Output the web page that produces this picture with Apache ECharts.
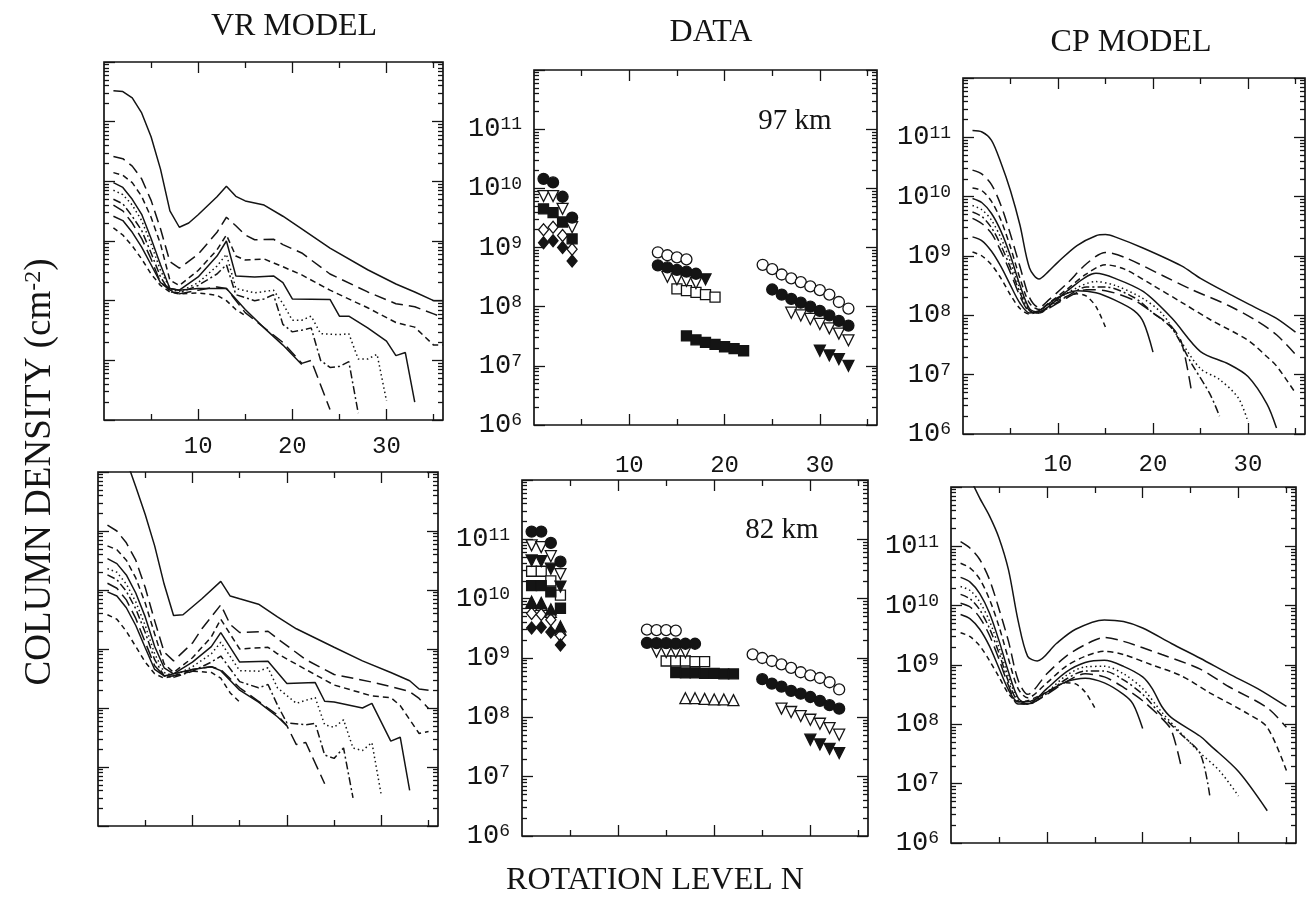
<!DOCTYPE html>
<html>
<head>
<meta charset="utf-8">
<script src="https://cdn.jsdelivr.net/npm/echarts@6/dist/echarts.min.js"></script>
<style>
  html, body { margin: 0; padding: 0; background: #fff; }
  #chart { width: 1315px; height: 920px; }
</style>
</head>
<body>
<div id="chart"></div>
<script>
// ---------- axis tick values ----------
const X_MAJOR = [10, 20, 30];
const X_MINOR = [5, 15, 25, 35];
const Y_DECADES = [1e6, 1e7, 1e8, 1e9, 1e10, 1e11, 1e12];
const Y_LABELS = [1e6, 1e7, 1e8, 1e9, 1e10, 1e11];

// ---------- VR model, upper row (N, column density) ----------
const vrTop1 = [[1,3.3e11],[2,3.2e11],[3,2.5e11],[4,1.4e11],[5,5.6e10],[6,1.6e10],[7,3.2e9],[8,1.7e9],[9,2.0e9],[10,2.75e9],[12,5.5e9],[13,8.3e9],[14,5.6e9],[15,4.7e9],[17,4.0e9],[19,2.6e9],[21,1.6e9],[24,7.6e8],[28,3.3e8],[31,1.9e8],[33,1.4e8],[35,1.0e8],[36,1.0e8]];
const vrTop2 = [[1,2.6e10],[2,2.4e10],[3,1.8e10],[4,1.1e10],[5,4.8e9],[6,1.6e9],[7,4.5e8],[8,3.5e8],[10,6.0e8],[12,1.4e9],[13,2.5e9],[14,1.8e9],[15,1.26e9],[16,1.05e9],[18,1.07e9],[19,8.7e8],[21,6.3e8],[24,2.8e8],[28,1.4e8],[31,8.9e7],[33,7.9e7],[35,6.0e7],[36,5.2e7]];
const vrTop3 = [[1,1.4e10],[2,1.26e10],[3,9.5e9],[4,5.6e9],[5,2.5e9],[6,8.9e8],[7,2.2e8],[8,1.8e8],[10,3.2e8],[12,7.1e8],[13,1.26e9],[14,5.6e8],[15,4.8e8],[17,5.0e8],[19,3.7e8],[21,2.7e8],[24,1.5e8],[28,7.6e7],[31,4.3e7],[33,3.6e7],[35,1.8e7],[36,1.8e7]];
const vrTop4 = [[1,9.5e9],[2,7.9e9],[3,5.0e9],[4,2.8e9],[5,1.1e9],[6,4.0e8],[7,1.6e8],[8,1.5e8],[10,2.5e8],[12,5.6e8],[13,1.0e9],[14,2.6e8],[16,2.5e8],[18,2.6e8],[19,2.0e8],[20,1.07e8],[24,1.05e8],[25,5.5e7],[26,5.5e7],[28,3.5e7],[30,2.1e7],[31,1.2e7],[32,1.35e7],[33,2.0e6]];
const vrTop5 = [[1,7.1e9],[2,6.0e9],[3,4.0e9],[4,2.2e9],[5,8.9e8],[6,3.2e8],[7,1.6e8],[8,1.4e8],[10,2.0e8],[12,3.8e8],[13,6.0e8],[14,1.6e8],[16,1.35e8],[18,1.5e8],[19,8.9e7],[20,4.7e7],[21,4.7e7],[22,5.5e7],[23,2.8e7],[25,2.7e7],[26,2.8e7],[27,1.05e7],[28,1.05e7],[29,1.26e7],[30,2.1e6]];
const vrTop6 = [[1,5.0e9],[2,4.2e9],[3,2.6e9],[4,1.5e9],[5,6.3e8],[6,2.5e8],[7,1.4e8],[8,1.35e8],[10,1.8e8],[12,2.8e8],[13,4.0e8],[14,1.26e8],[16,1.0e8],[17,1.07e8],[18,1.26e8],[19,4.0e7],[20,3.0e7],[21,3.2e7],[22,3.5e7],[23,1.0e7],[24,7.6e6],[25,7.9e6],[26,9.5e6],[27,1.3e6]];
const vrTop7 = [[1,4.0e9],[2,3.2e9],[3,2.0e9],[4,1.1e9],[5,5.0e8],[6,2.0e8],[7,1.5e8],[8,1.3e8],[10,1.5e8],[12,1.7e8],[13,1.6e8],[15,6.3e7],[16,4.7e7],[19,2.0e7],[21,8.9e6],[22,1.0e7],[24,1.5e6]];
const vrTop8 = [[1,2.6e9],[2,2.2e9],[3,1.4e9],[4,7.9e8],[5,4.0e8],[6,2.0e8],[7,1.6e8],[8,1.5e8],[10,1.6e8],[13,1.6e8],[15,7.1e7],[17,3.5e7],[19,1.8e7],[21,8.5e6]];
const vrTop9 = [[1,1.66e9],[2,1.26e9],[3,8.3e8],[4,5.0e8],[5,2.8e8],[6,1.8e8],[7,1.4e8],[8,1.3e8],[10,1.35e8],[12,1.23e8],[13,1.0e8],[14,7.1e7],[15,5.6e7]];

// ---------- VR model, lower row ----------
const vrBot1 = [[2,5.0e12],[3,1.6e12],[4,5.6e11],[5,1.9e11],[6,5.6e10],[7,1.26e10],[8,3.7e9],[9,3.8e9],[11,7.1e9],[13,1.4e10],[14,7.9e9],[15,7.1e9],[17,5.75e9],[19,3.5e9],[21,2.2e9],[25,1.07e9],[28,6.3e8],[31,4.0e8],[33,2.9e8],[34,2.1e8],[35,2.0e8]];
const vrBot2 = [[1,1.26e11],[2,1.0e11],[3,6.3e10],[4,3.2e10],[5,1.1e10],[6,3.0e9],[7,8.9e8],[8,6.3e8],[10,1.26e9],[11,2.2e9],[13,5.6e9],[14,2.6e9],[15,1.9e9],[18,2.0e9],[19,1.5e9],[22,6.6e8],[25,3.7e8],[29,2.75e8],[31,2.3e8],[33,1.9e8],[34,1.45e8],[35,9.8e7]];
const vrBot3 = [[1,5.6e10],[2,4.8e10],[3,3.2e10],[4,1.6e10],[5,6.0e9],[6,1.8e9],[7,5.6e8],[8,4.0e8],[10,7.1e8],[12,1.6e9],[13,3.2e9],[15,1.0e9],[18,1.07e9],[19,8.3e8],[22,4.5e8],[25,2.45e8],[29,1.6e8],[31,1.5e8],[32,1.1e8],[34,3.7e7],[35,4.0e7]];
const vrBot4 = [[1,3.4e10],[2,2.8e10],[3,1.8e10],[4,8.9e9],[5,3.5e9],[6,1.1e9],[7,4.8e8],[8,3.8e8],[10,6.0e8],[12,1.1e9],[13,1.9e9],[15,6.0e8],[18,6.2e8],[20,2.6e8],[23,2.7e8],[24,1.3e8],[25,1.26e8],[28,1.0e8],[29,1.2e8],[31,2.75e7],[32,3.2e7],[33,4.0e6]];
const vrBot5 = [[1,2.3e10],[2,2.0e10],[3,1.26e10],[4,6.3e9],[5,2.5e9],[6,8.3e8],[7,4.0e8],[8,3.5e8],[10,5.0e8],[12,8.3e8],[13,1.3e9],[15,4.3e8],[17,4.2e8],[18,4.8e8],[19,2.2e8],[21,1.2e8],[22,1.35e8],[23,1.5e8],[24,5.2e7],[25,4.7e7],[26,6.3e7],[27,2.1e7],[28,1.9e7],[29,2.6e7],[30,3.3e6]];
const vrBot6 = [[1,1.8e10],[2,1.5e10],[3,9.5e9],[4,4.8e9],[5,1.9e9],[6,6.6e8],[7,3.5e8],[8,3.3e8],[10,4.2e8],[12,6.0e8],[13,7.6e8],[15,2.8e8],[17,2.2e8],[18,2.5e8],[19,1.12e8],[20,5.6e7],[22,5.2e7],[23,5.5e7],[24,1.6e7],[25,1.4e7],[26,2.1e7],[27,3.0e6]];
const vrBot7 = [[1,1.3e10],[2,1.07e10],[3,6.8e9],[4,3.3e9],[5,1.3e9],[6,5.2e8],[7,3.5e8],[8,3.5e8],[10,4.5e8],[12,5.0e8],[13,4.5e8],[15,2.2e8],[17,1.3e8],[19,7.6e7],[20,5.0e7],[21,2.4e7],[22,2.6e7],[24,5.2e6]];
const vrBot8 = [[1,9.3e9],[2,7.9e9],[3,5.0e9],[4,2.5e9],[5,1.05e9],[6,4.5e8],[7,3.5e8],[8,3.8e8],[10,4.5e8],[12,5.0e8],[13,4.3e8],[15,2.0e8],[17,1.26e8],[19,7.1e7],[20,5.0e7]];
const vrBot9 = [[1,3.8e9],[2,3.2e9],[3,2.0e9],[4,1.1e9],[5,6.0e8],[6,3.8e8],[7,3.2e8],[8,3.5e8],[10,4.2e8],[12,4.0e8],[13,3.2e8],[14,1.8e8],[15,1.26e8]];

// ---------- CP model, upper row ----------
const cpTop1 = [[1,1.3e11],[2,1.23e11],[3,8.9e10],[4,3.7e10],[5,1.26e10],[6,3.3e9],[7,6.3e8],[8,4.1e8],[9,5.5e8],[10,7.9e8],[12,1.5e9],[14,2.2e9],[15,2.3e9],[16,2.1e9],[19,1.35e9],[23,6.8e8],[25,4.2e8],[28,2.3e8],[31,1.3e8],[33,8.9e7],[35,5.2e7]];
const cpTop2 = [[1,2.8e10],[2,2.4e10],[3,1.6e10],[4,7.1e9],[5,2.3e9],[6,6.6e8],[7,2.0e8],[8,1.35e8],[9,1.8e8],[11,3.5e8],[13,7.4e8],[15,1.15e9],[17,9.5e8],[21,4.7e8],[24,2.75e8],[28,1.45e8],[31,7.9e7],[33,4.7e7],[35,2.2e7]];
const cpTop3 = [[1,1.4e10],[2,1.26e10],[3,8.3e9],[4,4.0e9],[5,1.4e9],[6,4.2e8],[7,1.6e8],[8,1.26e8],[9,1.6e8],[11,2.8e8],[13,5.0e8],[15,7.1e8],[17,6.0e8],[20,3.2e8],[23,1.66e8],[26,8.5e7],[30,3.8e7],[32,2.0e7],[33,1.4e7],[35,4.9e6]];
const cpTop4 = [[1,9.3e9],[2,7.9e9],[3,5.2e9],[4,2.6e9],[5,1.0e9],[6,3.2e8],[7,1.3e8],[8,1.15e8],[9,1.4e8],[11,2.6e8],[14,5.1e8],[16,4.2e8],[19,2.5e8],[22,8.9e7],[25,2.45e7],[28,1.5e7],[30,9.3e6],[32,3.2e6],[33,1.26e6]];
const cpTop5 = [[1,7.1e9],[2,6.0e9],[3,4.0e9],[4,2.0e9],[5,7.9e8],[6,2.8e8],[7,1.26e8],[8,1.1e8],[9,1.4e8],[11,2.4e8],[14,3.7e8],[16,3.2e8],[19,1.9e8],[21,1.05e8],[23,3.5e7],[25,1.26e7],[27,8.3e6],[29,4.0e6],[30,1.6e6]];
const cpTop6 = [[1,5.5e9],[2,4.6e9],[3,3.0e9],[4,1.5e9],[5,6.3e8],[6,2.4e8],[7,1.2e8],[8,1.1e8],[9,1.35e8],[11,2.1e8],[13,3.0e8],[15,3.0e8],[18,2.0e8],[20,1.1e8],[22,6.0e7],[24,1.6e7],[26,4.7e6],[27,2.0e6]];
const cpTop7 = [[1,4.3e9],[2,3.5e9],[3,2.4e9],[4,1.2e9],[5,5.2e8],[6,2.1e8],[7,1.15e8],[8,1.1e8],[9,1.3e8],[11,2.0e8],[13,2.7e8],[15,2.6e8],[18,1.8e8],[20,1.1e8],[22,6.3e7],[23,3.5e7],[24,5.9e6]];
const cpTop8 = [[1,2.1e9],[2,1.8e9],[3,1.2e9],[4,6.6e8],[5,3.2e8],[6,1.6e8],[7,1.1e8],[8,1.2e8],[10,2.0e8],[12,2.6e8],[14,2.4e8],[16,1.8e8],[18,1.2e8],[19,7.6e7],[20,2.4e7]];
const cpTop9 = [[1,1.17e9],[2,1.0e9],[3,7.1e8],[4,4.2e8],[5,2.2e8],[6,1.3e8],[7,1.05e8],[8,1.2e8],[10,1.8e8],[12,2.3e8],[13,2.1e8],[14,1.4e8],[15,6.3e7]];

// ---------- CP model, lower row ----------
const cpBot1 = [[2,1.4e12],[3,6.5e11],[4,3.3e11],[5,1.4e11],[6,4.0e10],[7,5.6e9],[8,1.4e9],[9,1.17e9],[11,2.3e9],[13,4.0e9],[16,5.75e9],[18,5.4e9],[20,4.2e9],[23,2.3e9],[26,1.3e9],[29,7.1e8],[32,4.0e8],[35,2.0e8]];
const cpBot2 = [[1,1.2e11],[2,9.3e10],[3,6.0e10],[4,2.8e10],[5,8.9e9],[6,2.5e9],[7,5.6e8],[8,3.2e8],[10,7.1e8],[12,1.4e9],[14,2.2e9],[16,2.9e9],[18,2.5e9],[22,1.5e9],[26,8.5e8],[29,4.3e8],[33,1.9e8],[35,8.9e7]];
const cpBot3 = [[1,5.2e10],[2,4.3e10],[3,2.8e10],[4,1.3e10],[5,4.5e9],[6,1.26e9],[7,4.0e8],[8,2.8e8],[10,5.0e8],[12,9.5e8],[14,1.4e9],[16,1.7e9],[18,1.5e9],[21,1.0e9],[24,6.6e8],[27,3.4e8],[31,1.5e8],[33,8.9e7],[35,1.66e7]];
const cpBot4 = [[1,3.0e10],[2,2.5e10],[3,1.6e10],[4,7.6e9],[5,2.6e9],[6,7.6e8],[7,2.8e8],[8,2.2e8],[10,4.0e8],[12,7.6e8],[14,1.1e9],[16,1.2e9],[18,9.5e8],[20,6.3e8],[21,4.0e8],[22,2.0e8],[23,1.3e8],[26,6.3e7],[27,4.5e7],[30,1.6e7],[33,3.5e6]];
const cpBot5 = [[1,2.1e10],[2,1.8e10],[3,1.15e10],[4,5.6e9],[5,2.0e9],[6,6.3e8],[7,2.6e8],[8,2.2e8],[10,3.5e8],[12,6.6e8],[14,9.3e8],[16,9.5e8],[18,7.1e8],[20,4.0e8],[22,1.6e8],[24,7.1e7],[26,3.3e7],[28,1.66e7],[30,6.2e6]];
const cpBot6 = [[1,1.55e10],[2,1.3e10],[3,8.5e9],[4,4.2e9],[5,1.6e9],[6,5.2e8],[7,2.4e8],[8,2.2e8],[10,3.3e8],[12,5.75e8],[14,7.9e8],[16,7.9e8],[18,5.6e8],[20,3.2e8],[22,1.4e8],[24,6.8e7],[26,3.2e7],[27,6.3e6]];
const cpBot7 = [[1,1.1e10],[2,9.5e9],[3,6.3e9],[4,3.2e9],[5,1.26e9],[6,4.5e8],[7,2.2e8],[8,2.2e8],[10,3.2e8],[12,5.2e8],[14,7.1e8],[16,6.3e8],[18,4.2e8],[20,2.5e8],[22,1.26e8],[23,7.9e7],[24,2.0e7]];
const cpBot8 = [[1,7.1e9],[2,6.0e9],[3,4.0e9],[4,2.1e9],[5,8.9e8],[6,3.8e8],[7,2.4e8],[8,2.4e8],[10,3.5e8],[12,5.2e8],[14,6.0e8],[16,5.0e8],[18,3.2e8],[19,2.2e8],[20,8.5e7]];
const cpBot9 = [[1,3.5e9],[2,3.0e9],[3,2.1e9],[4,1.2e9],[5,6.3e8],[6,3.3e8],[7,2.4e8],[8,2.5e8],[10,3.5e8],[12,5.0e8],[13,4.8e8],[14,3.5e8],[15,1.9e8]];

// ---------- measured columns, 97 km ----------
const d97OpenCircle   = [[13,8.3e8],[14,7.4e8],[15,6.8e8],[16,6.3e8],[24,5.1e8],[25,4.3e8],[26,3.5e8],[27,3.0e8],[28,2.6e8],[29,2.2e8],[30,1.9e8],[31,1.6e8],[32,1.2e8],[33,9.3e7]];
const d97FilledCircle = [[1,1.45e10],[2,1.26e10],[3,7.2e9],[4,3.2e9],[13,5.0e8],[14,4.6e8],[15,4.2e8],[16,3.9e8],[17,3.6e8],[25,1.95e8],[26,1.6e8],[27,1.35e8],[28,1.17e8],[29,1.0e8],[30,8.5e7],[31,7.1e7],[32,5.75e7],[33,4.8e7]];
const d97OpenDown     = [[1,7.4e9],[2,7.4e9],[3,4.5e9],[4,2.2e9],[14,3.2e8],[15,2.9e8],[16,2.75e8],[17,2.5e8],[27,7.9e7],[28,7.1e7],[29,6.2e7],[30,5.1e7],[31,4.3e7],[32,3.5e7],[33,2.7e7]];
const d97FilledDown   = [[18,2.9e8],[30,1.8e7],[31,1.5e7],[32,1.3e7],[33,1.0e7]];
const d97OpenSquare   = [[15,2.0e8],[16,1.86e8],[17,1.74e8],[18,1.6e8],[19,1.45e8]];
const d97FilledSquare = [[1,4.5e9],[2,3.9e9],[3,2.7e9],[4,1.4e9],[16,3.2e7],[17,2.75e7],[18,2.5e7],[19,2.3e7],[20,2.1e7],[21,1.95e7],[22,1.8e7]];
const d97OpenDiamond  = [[1,2.0e9],[2,2.2e9],[3,1.6e9],[4,9.3e8]];
const d97FilledDiamond= [[1,1.2e9],[2,1.3e9],[3,1.0e9],[4,5.9e8]];

// ---------- measured columns, 82 km ----------
const d82OpenCircle   = [[13,3.0e9],[14,2.95e9],[15,2.95e9],[16,2.9e9],[24,1.15e9],[25,1.0e9],[26,8.9e8],[27,7.8e8],[28,6.8e8],[29,5.75e8],[30,5.1e8],[31,4.6e8],[32,3.9e8],[33,2.95e8]];
const d82FilledCircle = [[1,1.35e11],[2,1.35e11],[3,8.7e10],[4,4.2e10],[13,1.8e9],[14,1.78e9],[15,1.78e9],[16,1.75e9],[17,1.74e9],[18,1.74e9],[25,4.4e8],[26,3.7e8],[27,3.3e8],[28,2.8e8],[29,2.5e8],[30,2.2e8],[31,1.9e8],[32,1.6e8],[33,1.4e8]];
const d82OpenDown     = [[1,7.9e10],[2,7.4e10],[3,5.2e10],[4,2.6e10],[14,1.28e9],[15,1.26e9],[16,1.26e9],[17,1.25e9],[27,1.4e8],[28,1.23e8],[29,1.05e8],[30,9.1e7],[31,7.8e7],[32,6.6e7],[33,5.1e7]];
const d82FilledDown   = [[1,4.4e10],[2,4.3e10],[3,3.2e10],[4,1.6e10],[30,4.2e7],[31,3.5e7],[32,2.95e7],[33,2.5e7]];
const d82OpenSquare   = [[1,2.9e10],[2,2.9e10],[3,2.0e10],[4,1.15e10],[15,8.9e8],[16,8.9e8],[17,8.9e8],[18,8.7e8],[19,8.7e8]];
const d82FilledSquare = [[1,1.66e10],[2,1.66e10],[3,1.3e10],[4,6.9e9],[16,5.7e8],[17,5.6e8],[18,5.6e8],[19,5.5e8],[20,5.5e8],[21,5.4e8],[22,5.4e8]];
const d82OpenUp       = [[1,8.9e9],[2,7.9e9],[3,6.0e9],[4,3.0e9],[17,2.1e8],[18,2.1e8],[19,2.05e8],[20,2.0e8],[21,2.0e8],[22,1.95e8]];
const d82FilledUp     = [[1,8.5e9],[2,8.5e9],[3,6.6e9],[4,3.4e9]];
const d82OpenDiamond  = [[1,5.6e9],[2,5.4e9],[3,4.4e9],[4,2.4e9]];
const d82FilledDiamond= [[1,3.2e9],[2,3.3e9],[3,2.75e9],[4,1.66e9]];

// ---------- layout & styling ----------
const INK = '#141414';
const MONO = '"Liberation Mono", "DejaVu Sans Mono", monospace';
const SERIF = '"Liberation Serif", "DejaVu Serif", serif';

// panels: 0 VR upper, 1 DATA upper, 2 CP upper, 3 VR lower, 4 DATA lower, 5 CP lower
const PANELS = [
  { left: 104, top: 62,  width: 339, height: 358, xLabels: true,  yLabels: false, xMargin: 15 },
  { left: 534, top: 70,  width: 343, height: 355, xLabels: true,  yLabels: true,  xMargin: 29 },
  { left: 963, top: 78,  width: 342, height: 356, xLabels: true,  yLabels: true,  xMargin: 19 },
  { left: 98,  top: 472, width: 340, height: 354, xLabels: false, yLabels: false, xMargin: 12 },
  { left: 522, top: 480, width: 346, height: 356, xLabels: false, yLabels: true,  xMargin: 12 },
  { left: 951, top: 487, width: 345, height: 356, xLabels: false, yLabels: true,  xMargin: 12 }
];

// line pattern for the nine model curves, top to bottom
const DASHES = ['solid', [12, 6], [6, 4], 'solid', [1.5, 3], [8, 3, 2, 3], [13, 6], 'solid', [5, 4]];

const Y_MINOR = [];
Y_DECADES.slice(0, -1).forEach(d => { for (let k = 2; k <= 9; k++) Y_MINOR.push(k * d); });

const tickLine = { color: INK, width: 1.3 };
const noLine = { show: false, onZero: false };

const grid = [], xAxis = [], yAxis = [], series = [];

PANELS.forEach((p, gi) => {
  grid.push({
    left: p.left, top: p.top, width: p.width, height: p.height,
    show: true, borderColor: INK, borderWidth: 1.7, backgroundColor: 'transparent'
  });
  const xb = { gridIndex: gi, type: 'value', min: 0, max: 36, splitLine: { show: false }, axisLine: noLine };
  xAxis.push(
    { ...xb, position: 'bottom',
      axisTick: { inside: true, length: 11, customValues: X_MAJOR, lineStyle: tickLine },
      axisLabel: { show: p.xLabels, customValues: X_MAJOR, margin: p.xMargin, fontFamily: MONO, fontSize: 24, color: INK } },
    { ...xb, position: 'bottom', axisTick: { inside: true, length: 6, customValues: X_MINOR, lineStyle: tickLine }, axisLabel: { show: false } },
    { ...xb, position: 'top', axisTick: { inside: true, length: 11, customValues: X_MAJOR, lineStyle: tickLine }, axisLabel: { show: false } },
    { ...xb, position: 'top', axisTick: { inside: true, length: 6, customValues: X_MINOR, lineStyle: tickLine }, axisLabel: { show: false } }
  );
  const yb = { gridIndex: gi, type: 'log', logBase: 10, min: 1e6, max: 1e12, splitLine: { show: false }, axisLine: noLine };
  yAxis.push(
    { ...yb, position: 'left',
      axisTick: { inside: true, length: 11, customValues: Y_DECADES, lineStyle: tickLine },
      axisLabel: {
        show: p.yLabels, customValues: Y_LABELS, margin: 12,
        formatter: v => '{b|10}{e|' + Math.round(Math.log10(v)) + '}',
        rich: {
          b: { fontFamily: MONO, fontSize: 27, color: INK },
          e: { fontFamily: MONO, fontSize: 18, color: INK, verticalAlign: 'top' }
        }
      } },
    { ...yb, position: 'left', axisTick: { inside: true, length: 5, customValues: Y_MINOR, lineStyle: tickLine }, axisLabel: { show: false } },
    { ...yb, position: 'right', axisTick: { inside: true, length: 11, customValues: Y_DECADES, lineStyle: tickLine }, axisLabel: { show: false } },
    { ...yb, position: 'right', axisTick: { inside: true, length: 5, customValues: Y_MINOR, lineStyle: tickLine }, axisLabel: { show: false } }
  );
});

function modelCurves(gi, curves, smooth) {
  curves.forEach((data, i) => {
    series.push({
      type: 'line', xAxisIndex: 4 * gi, yAxisIndex: 4 * gi, data,
      symbol: 'none', smooth, clip: true, silent: true,
      lineStyle: { color: INK, width: 1.5, type: DASHES[i] }
    });
  });
}

modelCurves(0, [vrTop1, vrTop2, vrTop3, vrTop4, vrTop5, vrTop6, vrTop7, vrTop8, vrTop9], false);
modelCurves(3, [vrBot1, vrBot2, vrBot3, vrBot4, vrBot5, vrBot6, vrBot7, vrBot8, vrBot9], false);
modelCurves(2, [cpTop1, cpTop2, cpTop3, cpTop4, cpTop5, cpTop6, cpTop7, cpTop8, cpTop9], 0.3);
modelCurves(5, [cpBot1, cpBot2, cpBot3, cpBot4, cpBot5, cpBot6, cpBot7, cpBot8, cpBot9], 0.3);

const SHAPES = {
  openCircle:    { symbol: 'circle',   size: 11, rotate: 0,   fill: '#fff' },
  filledCircle:  { symbol: 'circle',   size: 11, rotate: 0,   fill: INK },
  openDown:      { symbol: 'triangle', size: 11, rotate: 180, fill: '#fff' },
  filledDown:    { symbol: 'triangle', size: 11, rotate: 180, fill: INK },
  openUp:        { symbol: 'triangle', size: 11, rotate: 0,   fill: '#fff' },
  filledUp:      { symbol: 'triangle', size: 11, rotate: 0,   fill: INK },
  openSquare:    { symbol: 'rect',     size: 10, rotate: 0,   fill: '#fff' },
  filledSquare:  { symbol: 'rect',     size: 10, rotate: 0,   fill: INK },
  openDiamond:   { symbol: 'diamond',  size: [10, 12], rotate: 0, fill: '#fff' },
  filledDiamond: { symbol: 'diamond',  size: [10, 12], rotate: 0, fill: INK }
};

function markers(gi, shape, data) {
  const s = SHAPES[shape];
  series.push({
    type: 'scatter', xAxisIndex: 4 * gi, yAxisIndex: 4 * gi, data,
    symbol: s.symbol, symbolSize: s.size, symbolRotate: s.rotate, silent: true,
    itemStyle: { color: s.fill, borderColor: INK, borderWidth: 1.3, opacity: 1 }
  });
}

markers(1, 'openCircle', d97OpenCircle);
markers(1, 'openSquare', d97OpenSquare);
markers(1, 'openDiamond', d97OpenDiamond);
markers(1, 'filledDiamond', d97FilledDiamond);
markers(1, 'filledSquare', d97FilledSquare);
markers(1, 'openDown', d97OpenDown);
markers(1, 'filledDown', d97FilledDown);
markers(1, 'filledCircle', d97FilledCircle);

markers(4, 'openCircle', d82OpenCircle);
markers(4, 'openSquare', d82OpenSquare);
markers(4, 'openUp', d82OpenUp);
markers(4, 'openDiamond', d82OpenDiamond);
markers(4, 'filledDiamond', d82FilledDiamond);
markers(4, 'filledUp', d82FilledUp);
markers(4, 'filledSquare', d82FilledSquare);
markers(4, 'filledDown', d82FilledDown);
markers(4, 'openDown', d82OpenDown);
markers(4, 'filledCircle', d82FilledCircle);

const textStyle = (size) => ({ fontFamily: SERIF, fontSize: size, fill: INK, align: 'center', verticalAlign: 'middle' });

const graphic = [
  { type: 'text', x: 294, y: 27, style: { text: 'VR MODEL', ...textStyle(32) } },
  { type: 'text', x: 711, y: 33, style: { text: 'DATA', ...textStyle(32) } },
  { type: 'text', x: 1131, y: 43, style: { text: 'CP MODEL', ...textStyle(32) } },
  { type: 'text', x: 795, y: 121, style: { text: '97 km', ...textStyle(29) } },
  { type: 'text', x: 782, y: 530, style: { text: '82 km', ...textStyle(29) } },
  { type: 'text', x: 655, y: 881, style: { text: 'ROTATION LEVEL N', ...textStyle(32) } },
  { type: 'text', x: 40, y: 472, rotation: Math.PI / 2,
    style: { text: 'COLUMN DENSITY (cm{s|-2})', ...textStyle(37),
      rich: { s: { fontFamily: SERIF, fontSize: 24, fill: INK, verticalAlign: 'top' } } } }
];

const chart = echarts.init(document.getElementById('chart'), null, { renderer: 'canvas' });
chart.setOption({
  animation: false,
  backgroundColor: '#fff',
  grid, xAxis, yAxis, series, graphic
});
</script>
</body>
</html>
